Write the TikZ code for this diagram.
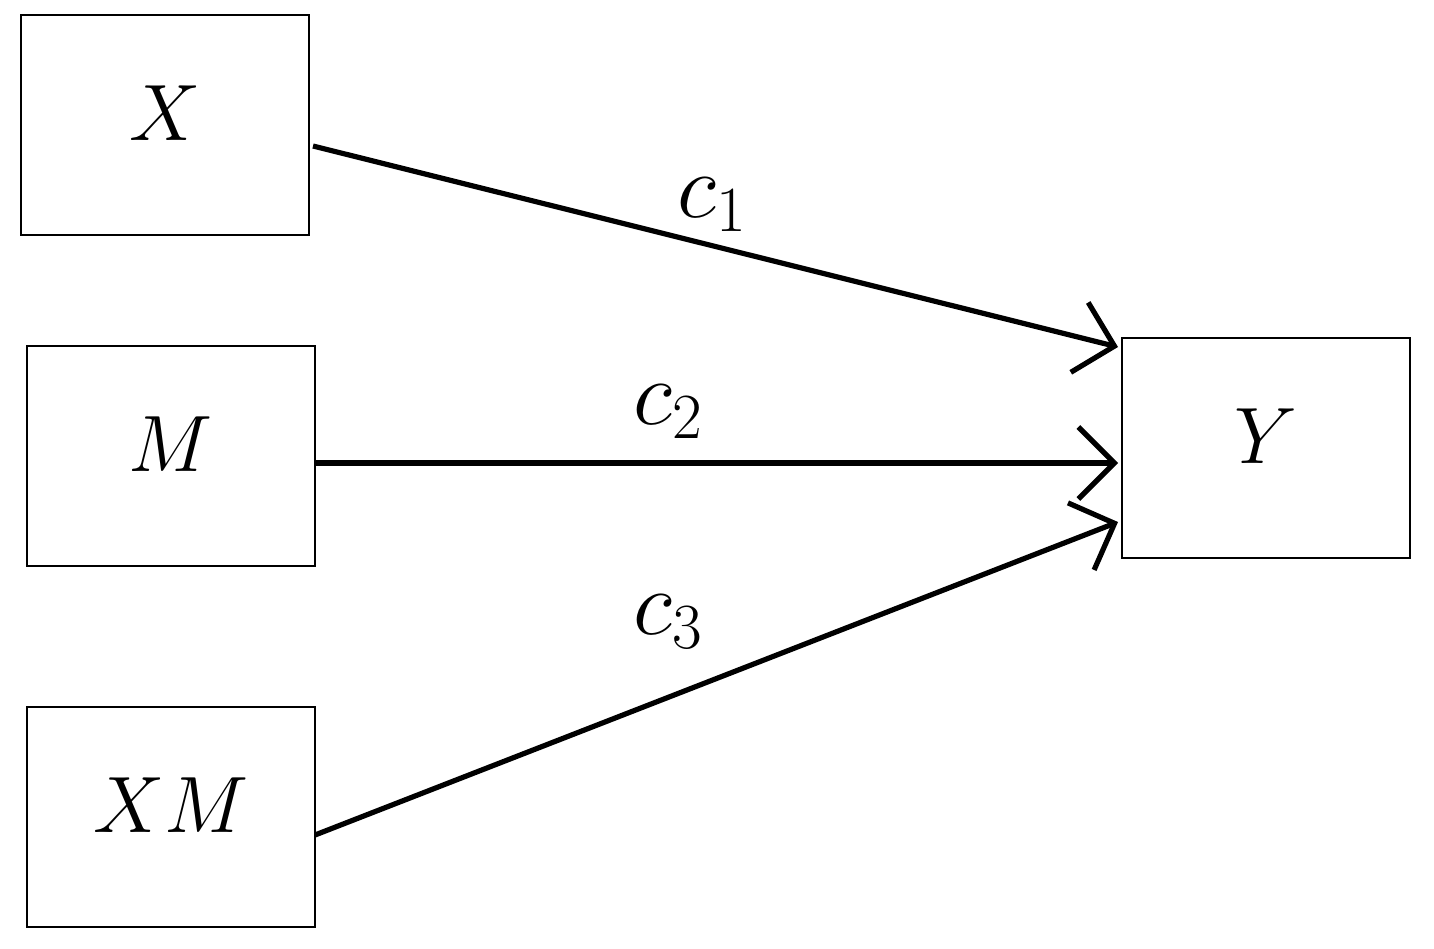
\RequirePackage{fix-cm}
\documentclass[tikz,border=0pt]{standalone}
\usetikzlibrary{arrows.meta}
\begin{document}
\begin{tikzpicture}[x=0.5pt,y=-0.5pt,
  box/.style={draw,line width=1.2pt,minimum width=144pt,minimum height=110pt,inner sep=0pt,font=\fontsize{40}{48}\selectfont},
  arr/.style={line width=2.6pt,-{Straight Barb[length=18pt,width=36pt,line width=2.6pt]}},
  lab/.style={font=\fontsize{46}{52}\selectfont}]
\useasboundingbox (0,0) rectangle (1434,948);
\node[box] (X) at (165,125) {\raisebox{12pt}{$X$}};
\node[box] (M) at (171,456) {\raisebox{12pt}{$M$}};
\node[box] (XM) at (171,817) {\raisebox{12pt}{$XM$}};
\node[box] (Y) at (1266,448) {\raisebox{12pt}{$Y$}};
\coordinate (xs) at (313,146);
\coordinate (ms) at (315,463);
\coordinate (xms) at (315,835);
\coordinate (ya) at (1118,347);
\coordinate (yb) at (1118,463);
\coordinate (yc) at (1118,522);
\draw[arr] (xs) -- (ya);
\draw[arr] (ms) -- (yb);
\draw[arr] (xms) -- (yc);
\node[lab] (c1) at (712,205) {$c_1$};
\node[lab] (c2) at (668,412) {$c_2$};
\node[lab] (c3) at (668,622) {$c_3$};
\end{tikzpicture}
\end{document}
